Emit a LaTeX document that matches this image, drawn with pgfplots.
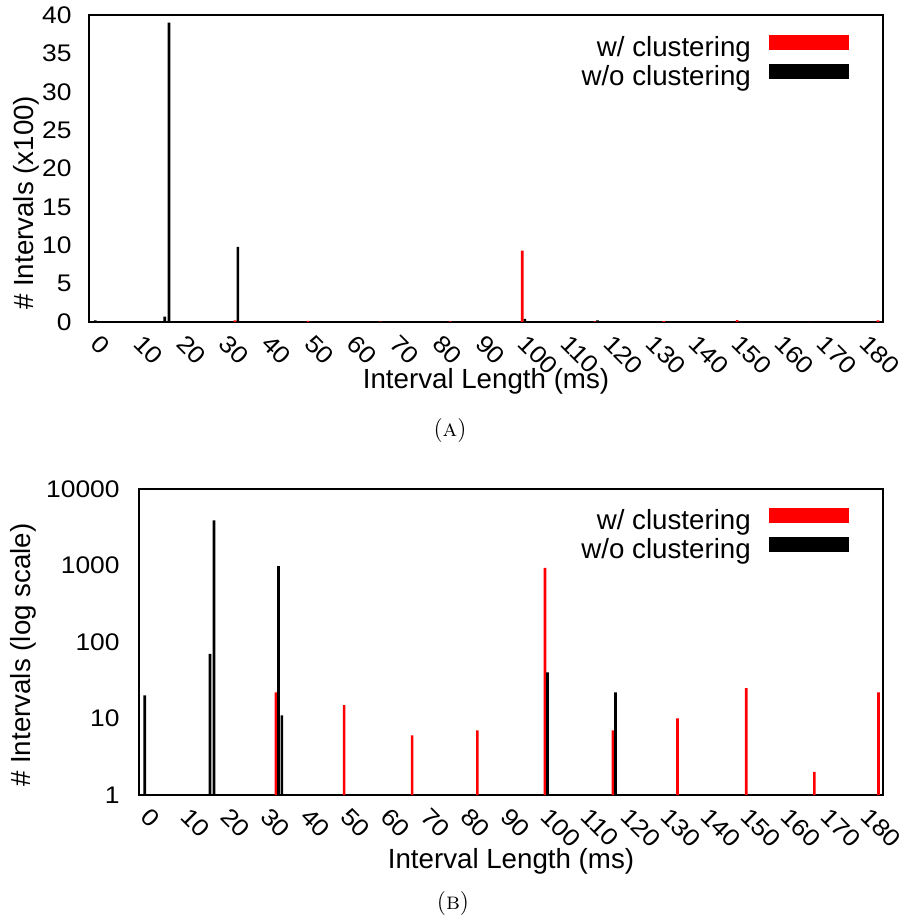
\documentclass[border=0pt]{standalone}
\usepackage{fontspec}
\usepackage{graphicx}
\usepackage{pgfplots}
\usepackage{pgfplotstable}
\pgfplotsset{compat=1.18}
\newfontfamily\lib{Liberation Sans}
\newcommand\W[1]{\scalebox{1.1}[1]{#1}}
\newcommand\tickfont{\lib\fontsize{12}{14}\selectfont}
\newcommand\labfont{\lib\fontsize{13.85}{16}\selectfont}

% w/o clustering (counts)
\pgfplotstableread{
x y
0 20
16.3 70
17.3 3900
33.4 980
34.25 11
100.6 40
117.6 22
}\woclust
% w/ clustering (counts)
\pgfplotstableread{
x y
32.75 22
49.8 15
66.8 6
83.1 7
100 930
117 7
133.1 10
150.3 25
167.3 2
183.3 22
}\wclust

\pgfplotsset{
 common/.style={
  scale only axis,
  xmin=-1.45, xmax=184.45,
  axis line style={line width=1pt},
  tick style={draw=none},
  major tick length=0pt, minor tick length=0pt,
  xtick={0,10,...,180},
  xticklabels={\W{0},\W{10},\W{20},\W{30},\W{40},\W{50},\W{60},\W{70},\W{80},\W{90},\W{100},\W{110},\W{120},\W{130},\W{140},\W{150},\W{160},\W{170},\W{180}},
  xticklabel style={font=\tickfont, inner sep=0pt, anchor=west, yshift=-8.5pt, rotate=-45},
  yticklabel style={font=\tickfont, inner sep=0pt, anchor=east},
  label style={font=\labfont},
  legend cell align=right,
  legend plot pos=right,
 },
 lg/.style={legend style={draw=none, fill=none, inner sep=0pt, outer sep=0pt, row sep=0pt, column sep=9pt,
   font=\labfont, nodes={inner sep=0pt, text height=8pt, text depth=4pt},
   anchor=north east, at={(axis description cs:#1)}}},
 bars/.style={ybar, bar width=1.35pt, bar shift=0pt, draw=none, fill=#1,
   legend image code/.code={\fill[#1] (0pt,1.25pt) rectangle (40pt,8.75pt);}},
}

\begin{document}
\begin{tikzpicture}
\path[use as bounding box] (0,0) rectangle (453pt,460pt);

\begin{axis}[common,
  at={(44.5pt,299pt)}, anchor=south west,
  width=397pt, height=153.5pt,
  ymin=0, ymax=40,
  ytick={0,5,...,40},
  yticklabels={\W{0},\W{5},\W{10},\W{15},\W{20},\W{25},\W{30},\W{35},\W{40}},
  yticklabel style={xshift=-8.5pt},
  xlabel={Interval Length (ms)},
  ylabel={\# Intervals (x100)},
  xlabel style={at={(axis description cs:0.5,-0.192)}, anchor=center},
  ylabel style={at={(axis description cs:-0.079,0.388)}, anchor=center},
  lg={0.957,0.935},
]
\addplot[bars=red] table[x=x, y expr=\thisrow{y}/100] {\wclust};
\addlegendentry{w/ clustering}
\addplot[bars=black] table[x=x, y expr=\thisrow{y}/100] {\woclust};
\addlegendentry{w/o clustering}
\end{axis}

\begin{axis}[common,
  at={(69.5pt,62.5pt)}, anchor=south west,
  width=372pt, height=153pt,
  ymode=log, ymin=1, ymax=10000,
  ytick={1,10,100,1000,10000},
  yticklabels={\W{1},\W{10},\W{100},\W{1000},\W{10000}},
  yticklabel style={xshift=-9.5pt},
  xlabel={Interval Length (ms)},
  ylabel={\# Intervals (log scale)},
  xlabel style={at={(axis description cs:0.5,-0.218)}, anchor=center},
  ylabel style={at={(axis description cs:-0.155,0.457)}, anchor=center},
  lg={0.954,0.938},
]
\addplot[bars=red] table[x=x, y=y] {\wclust};
\addlegendentry{w/ clustering}
\addplot[bars=black] table[x=x, y=y] {\woclust};
\addlegendentry{w/o clustering}
\end{axis}

\node[font=\fontsize{12}{14}\selectfont] at (225pt,244.5pt) {(\textsc{a})};
\node[font=\fontsize{12}{14}\selectfont] at (226.5pt,8pt) {(\textsc{b})};
\end{tikzpicture}
\end{document}
